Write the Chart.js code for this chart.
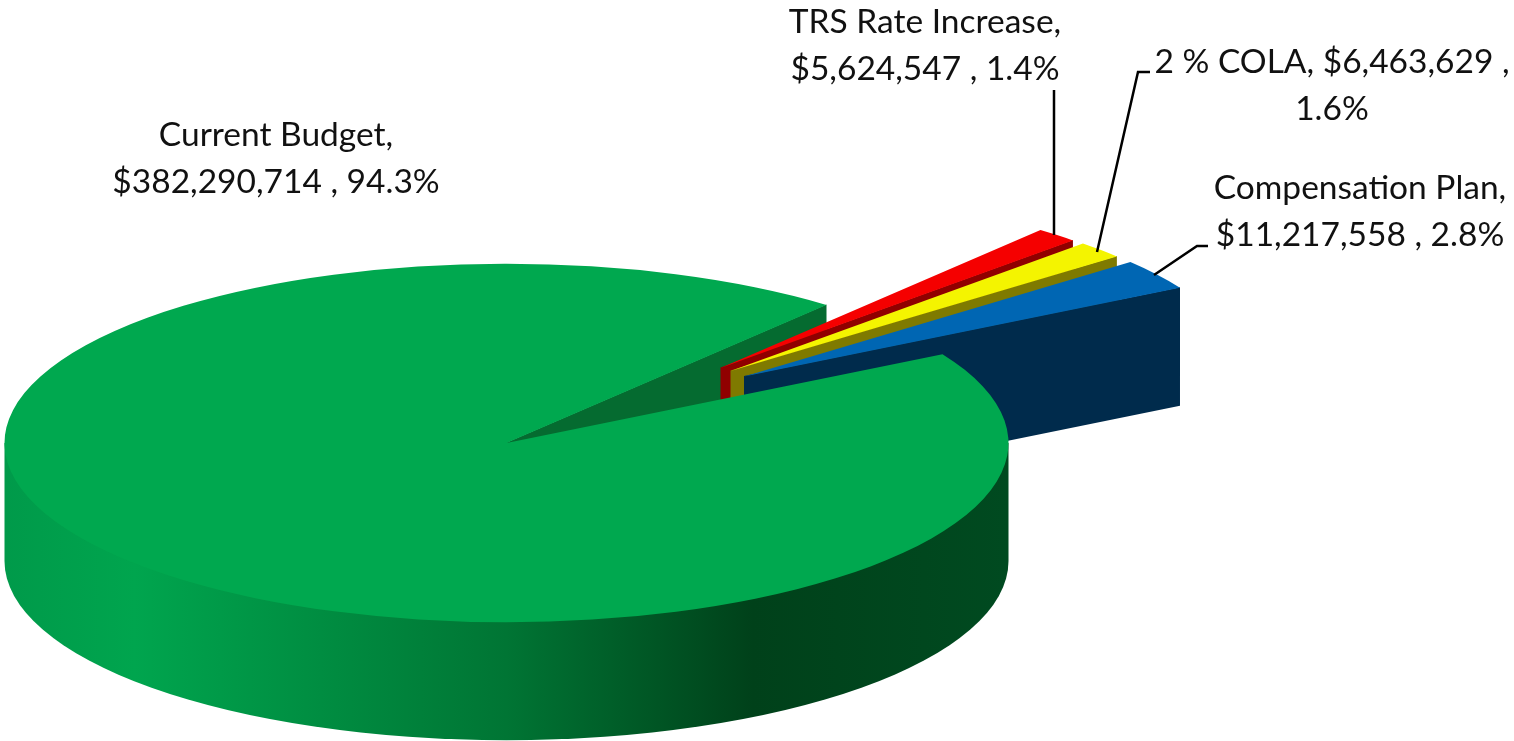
<!DOCTYPE html>
<html>
<head>
<meta charset="utf-8">
<style>
  html, body { margin: 0; padding: 0; background: #fff; overflow: hidden; }
  canvas { display: block; }
</style>
<script src="https://cdn.jsdelivr.net/npm/chart.js@4"></script>
</head>
<body>
<canvas id="budgetPie" width="1514" height="741"></canvas>
<script>
var categories = ['TRS Rate Increase', '2 % COLA', 'Compensation Plan', 'Current Budget']
var amounts    = [5624547, 6463629, 11217558, 382290714]
var topColors  = ['#f50000', '#f4f400', '#0066b3', '#00a84f']
var wallColors = ['#900000', '#7f7a00', '#002b4c', '#056b30']

// slices pulled out of the pie, screen pixels
var shiftX = [214, 224, 237.5, 0]
var shiftY = [-75, -72, -66.5, 0]

var labelLines = [
  { lines: ['TRS Rate Increase,', '$5,624,547 , 1.4%'], x: 925, y: [33, 80] },
  { lines: ['2 % COLA, $6,463,629 ,', '1.6%'], x: 1332, y: [73, 120] },
  { lines: ['Compensation Plan,', '$11,217,558 , 2.8%'], x: 1360, y: [199, 246] },
  { lines: ['Current Budget,', '$382,290,714 , 94.3%'], x: 276, y: [146, 193] }
]
var leaders = [
  [[1054, 90], [1054, 235]],
  [[1150, 72], [1138, 72], [1097, 252]],
  [[1208, 246], [1197, 246], [1154, 275]]
]

var CX = 506.5, CY = 443, SQUASH = 0.357, DEPTH = 118

function sideGradient(ctx, r) {
  var g = ctx.createLinearGradient(CX - r, 0, CX + r, 0)
  g.addColorStop(0, '#009a4a')
  g.addColorStop(0.13, '#00a54e')
  g.addColorStop(0.5, '#007534')
  g.addColorStop(0.745, '#00411a')
  g.addColorStop(1, '#004a20')
  return g
}

function radialWall(ctx, arc, i) {
  var x0 = CX + shiftX[i], y0 = CY + shiftY[i]
  var x1 = x0 + Math.cos(arc.endAngle) * arc.outerRadius
  var y1 = y0 + Math.sin(arc.endAngle) * arc.outerRadius * SQUASH
  ctx.beginPath()
  ctx.moveTo(x0, y0 - 0.5)
  ctx.lineTo(x1, y1 - 0.5)
  ctx.lineTo(x1, y1 + DEPTH)
  ctx.lineTo(x0, y0 + DEPTH)
  ctx.closePath()
  ctx.fillStyle = wallColors[i]
  ctx.fill()
}

function topFace(ctx, arc, i) {
  ctx.save()
  ctx.translate(CX + shiftX[i], CY + shiftY[i])
  ctx.scale(1, SQUASH)
  ctx.translate(-arc.x, -arc.y)
  arc.draw(ctx)
  ctx.restore()
}

var pie3d = {
  id: 'pie3d',
  beforeDatasetsDraw: function (chart) {
    var ctx = chart.ctx
    var arcs = chart.getDatasetMeta(0).data
    var green = arcs.length - 1
    radialWall(ctx, arcs[green], green)
    for (var i = 0; i < green; i++) {
      radialWall(ctx, arcs[i], i)
      topFace(ctx, arcs[i], i)
    }
    // front rim of the big slice, its upper part stays hidden under the top face
    var r = arcs[green].outerRadius
    ctx.beginPath()
    ctx.moveTo(CX + r, CY)
    ctx.ellipse(CX, CY + DEPTH, r, r * SQUASH, 0, 0, Math.PI)
    ctx.lineTo(CX - r, CY)
    ctx.closePath()
    ctx.fillStyle = sideGradient(ctx, r)
    ctx.fill()
    topFace(ctx, arcs[green], green)
    return false
  },
  afterDraw: function (chart) {
    var ctx = chart.ctx
    ctx.save()
    ctx.strokeStyle = '#000'
    ctx.lineWidth = 2.5
    leaders.forEach(function (pts) {
      ctx.beginPath()
      pts.forEach(function (p, k) { k ? ctx.lineTo(p[0], p[1]) : ctx.moveTo(p[0], p[1]) })
      ctx.stroke()
    })
    ctx.fillStyle = '#111'
    ctx.font = '33.5px Lato'
    ctx.textAlign = 'center'
    ctx.textBaseline = 'alphabetic'
    labelLines.forEach(function (l) {
      l.lines.forEach(function (t, k) { ctx.fillText(t, l.x, l.y[k]) })
    })
    ctx.restore()
  }
}

new Chart(document.getElementById('budgetPie'), {
  type: 'pie',
  data: {
    labels: categories,
    datasets: [{ data: amounts, backgroundColor: topColors, borderWidth: 0 }]
  },
  options: {
    responsive: false,
    animation: false,
    rotation: 39.6,
    radius: 502,
    plugins: { legend: { display: false }, tooltip: { enabled: false } }
  },
  plugins: [pie3d]
})
</script>
</body>
</html>
